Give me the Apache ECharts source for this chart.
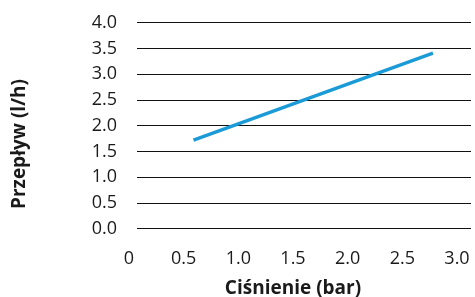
<!DOCTYPE html>
<html><head><meta charset="utf-8">
<script src="https://cdn.jsdelivr.net/npm/echarts@6/dist/echarts.min.js"></script>
<style>html,body{margin:0;padding:0;background:#fff}#c{width:475px;height:297px}</style>
</head><body><div id="c"></div>
<script>
var xTicks = [0, 0.5, 1.0, 1.5, 2.0, 2.5, 3.0];
var yTicks = [0.0, 0.5, 1.0, 1.5, 2.0, 2.5, 3.0, 3.5, 4.0];
var pressure = [0.59, 2.78];
var flow = [1.72, 3.41];
var xName = 'Ciśnienie (bar)';
var yName = 'Przepływ (l/h)';

var font = 'Open Sans';
var chart = echarts.init(document.getElementById('c'));
chart.setOption({
  animation: false,
  grid: [
    {left: 137, right: 4, top: 22.7, bottom: 68.3, outerBoundsMode: 'none', containLabel: false},
    {left: 129, right: 18, top: 22.7, bottom: 68.3, outerBoundsMode: 'none', containLabel: false},
    {left: 137, right: 4, top: 43, bottom: 52, outerBoundsMode: 'none', containLabel: false}
  ],
  xAxis: [
    {gridIndex: 0, type: 'value', show: false, min: 0, max: 1},
    {gridIndex: 1, type: 'value', min: 0, max: 3, interval: 0.5,
      axisLine: {show: false}, axisTick: {show: false}, splitLine: {show: false},
      axisLabel: {margin: 21, color: '#1a1a1a', fontFamily: font, fontSize: 18,
        formatter: function (v) { return v === 0 ? '0' : v.toFixed(1); }},
      name: xName, nameLocation: 'middle', nameGap: 50,
      nameTextStyle: {fontFamily: font, fontWeight: 'bold', fontSize: 19, color: '#1a1a1a'}
    },
    {gridIndex: 2, type: 'value', show: false}
  ],
  yAxis: [
    {gridIndex: 0, type: 'value', min: 0, max: 4, interval: 0.5,
      axisLine: {show: false}, axisTick: {show: false},
      splitLine: {lineStyle: {color: '#111', width: 1}},
      axisLabel: {margin: 20, color: '#1a1a1a', fontFamily: font, fontSize: 18,
        formatter: function (v) { return v.toFixed(1); }}
    },
    {gridIndex: 1, type: 'value', min: 0, max: 4, show: false},
    {gridIndex: 2, type: 'value', axisLine: {show: false}, axisTick: {show: false},
      axisLabel: {show: false}, splitLine: {show: false},
      name: yName, nameLocation: 'middle', nameGap: 108,
      nameTextStyle: {fontFamily: font, fontWeight: 'bold', fontSize: 19, color: '#1a1a1a'}
    }
  ],
  series: [{
    type: 'line', xAxisIndex: 1, yAxisIndex: 1,
    data: pressure.map(function (p, i) { return [p, flow[i]]; }),
    symbol: 'none', lineStyle: {color: '#1a9ad6', width: 3.3}
  }]
});
</script></body></html>
